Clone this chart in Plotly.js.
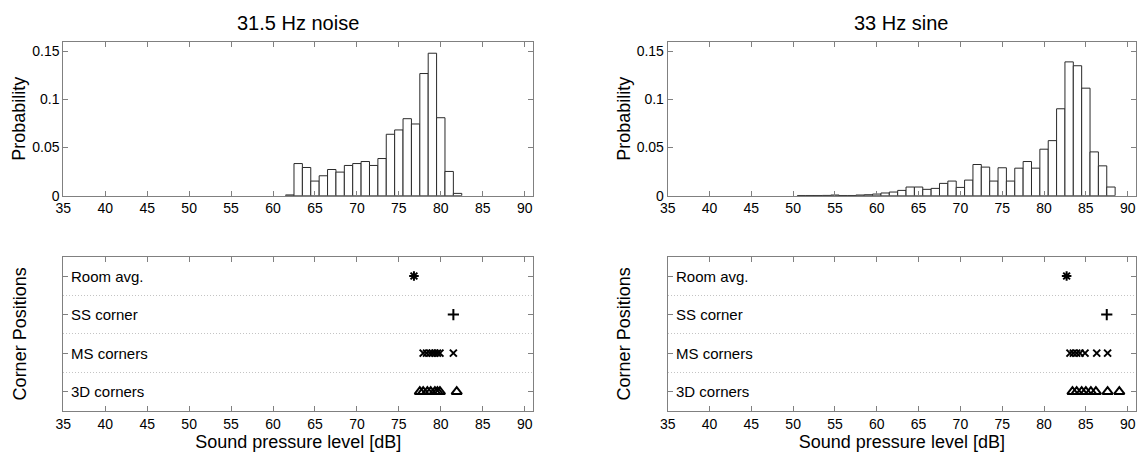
<!DOCTYPE html>
<html>
<head>
<meta charset="utf-8">
<script src="https://cdn.plot.ly/plotly-3.0.1.min.js"></script>
<style>html,body{margin:0;padding:0;background:#fff;}#chart{width:1139px;height:455px;}</style>
</head>
<body>
<div id="chart"></div>
<script>
// ---- Data ----
const panelTitles = ["31.5 Hz noise", "33 Hz sine"];
const xTitle = "Sound pressure level [dB]";
const yTitleTop = "Probability";
const yTitleBottom = "Corner Positions";
const cornerCategories = ["3D corners", "MS corners", "SS corner", "Room avg."];

// Histogram (1 dB bins, centres)
const noiseBins = [62, 63, 64, 65, 66, 67, 68, 69, 70, 71, 72, 73, 74, 75, 76, 77, 78, 79, 80, 81, 82];
const noiseProb = [0.0008, 0.0334, 0.0293, 0.0152, 0.0207, 0.0272, 0.0245, 0.0314, 0.0334, 0.0355, 0.0314,
                   0.0386, 0.0638, 0.0683, 0.0800, 0.0745, 0.1269, 0.1480, 0.0810, 0.0252, 0.0024];

const sineBins = [51, 52, 53, 54, 55, 56, 57, 58, 59, 60, 61, 62, 63, 64, 65, 66, 67, 68, 69, 70,
                  71, 72, 73, 74, 75, 76, 77, 78, 79, 80, 81, 82, 83, 84, 85, 86, 87, 88];
const sineProb = [0.0002, 0.0002, 0.0002, 0.0003, 0.0007, 0.0002, 0.0002, 0.0007, 0.0010, 0.0017, 0.0028,
                  0.0038, 0.0055, 0.0090, 0.0090, 0.0066, 0.0076, 0.0128, 0.0152, 0.0086,
                  0.0162, 0.0324, 0.0297, 0.0152, 0.0290, 0.0152, 0.0286, 0.0355, 0.0286, 0.0483,
                  0.0572, 0.0903, 0.1390, 0.1350, 0.1117, 0.0455, 0.0310, 0.0090];

// Corner position levels [dB]
const noiseRoomAvg = [76.8];
const noiseSS = [81.5];
const noiseMS = [77.9, 78.3, 78.7, 79.0, 79.3, 79.6, 79.9, 81.5];
const noise3D = [77.5, 77.9, 78.4, 78.8, 79.3, 79.6, 79.9, 81.9];

const sineRoomAvg = [82.7];
const sineSS = [87.5];
const sineMS = [83.1, 83.5, 83.9, 84.3, 84.9, 86.3, 87.6];
const sine3D = [83.4, 83.9, 84.5, 85.0, 85.6, 86.2, 87.6, 89.0];

// ---- Build ----
const FONT = "Liberation Sans, Arial, Helvetica, sans-serif";
const AX = "#808080";
function catPos(name) { return cornerCategories.indexOf(name) + 1; }
function rep(name, arr) { return arr.map(() => catPos(name)); }

const markerStyles = {
  "Room avg.": {symbol: "asterisk-open", size: 8},
  "SS corner": {symbol: "cross-thin-open", size: 8},
  "MS corners": {symbol: "x-thin-open", size: 7},
  "3D corners": {symbol: "triangle-up-open", size: 9}
};

const traces = [];
function hist(x, y, xa, ya) {
  traces.push({type: "bar", x: x, y: y, xaxis: xa, yaxis: ya, width: 1,
    marker: {color: "#ffffff", line: {color: "#2a2a2a", width: 1}}, hoverinfo: "x+y", showlegend: false});
}
hist(noiseBins, noiseProb, "x", "y");
hist(sineBins, sineProb, "x2", "y2");

function corner(name, vals, xa, ya) {
  const st = markerStyles[name];
  traces.push({type: "scatter", mode: "markers", x: vals, y: rep(name, vals), xaxis: xa, yaxis: ya,
    name: name, showlegend: false, cliponaxis: false,
    marker: {symbol: st.symbol, size: st.size, color: "#000", line: {color: "#000", width: 2}}});
}
corner("Room avg.", noiseRoomAvg, "x3", "y3");
corner("SS corner", noiseSS, "x3", "y3");
corner("MS corners", noiseMS, "x3", "y3");
corner("3D corners", noise3D, "x3", "y3");
corner("Room avg.", sineRoomAvg, "x4", "y4");
corner("SS corner", sineSS, "x4", "y4");
corner("MS corners", sineMS, "x4", "y4");
corner("3D corners", sine3D, "x4", "y4");

const xdomL = [0.0556, 0.4680], xdomR = [0.5862, 0.9974];
const ydomT = [0.5699, 0.9084], ydomB = [0.0967, 0.4358];

function xaxis(dom, anchor, withTitle) {
  const a = {domain: dom, anchor: anchor, range: [35, 91], tick0: 35, dtick: 5, tickmode: "linear",
    ticks: "inside", ticklen: 5, tickcolor: AX, showline: true, linecolor: AX, linewidth: 1,
    mirror: "allticks", showgrid: false, zeroline: false, fixedrange: true,
    tickfont: {family: FONT, size: 14, color: "#000"}};
  if (withTitle) a.title = {text: xTitle, font: {family: FONT, size: 18, color: "#000"}, standoff: 3};
  return a;
}
function yaxisTop(dom, anchor) {
  return {domain: dom, anchor: anchor, range: [0, 0.16], tickvals: [0, 0.05, 0.1, 0.15],
    ticktext: ["0", "0.05", "0.1", "0.15"],
    ticks: "inside", ticklen: 5, tickcolor: AX, showline: true, linecolor: AX, linewidth: 1,
    mirror: "allticks", showgrid: false, zeroline: false, fixedrange: true,
    tickfont: {family: FONT, size: 14, color: "#000"},
    title: {text: yTitleTop, font: {family: FONT, size: 18, color: "#000"}, standoff: 1}};
}
function yaxisBot(dom, anchor) {
  return {domain: dom, anchor: anchor, range: [0.5, 4.5],
    tickvals: cornerCategories.map(c => catPos(c)), showticklabels: false,
    ticks: "inside", ticklen: 5, tickcolor: AX,
    showline: true, linecolor: AX, linewidth: 1, mirror: "allticks", showgrid: false, zeroline: false,
    fixedrange: true,
    minor: {tickvals: [1.5, 2.5, 3.5], showgrid: true, gridcolor: "#c4c4c4", griddash: "1px,2px", gridwidth: 1, ticks: ""},
    title: {text: yTitleBottom, font: {family: FONT, size: 18, color: "#000"}, standoff: 31}};
}

const annotations = [
  {text: panelTitles[0], xref: "paper", yref: "paper", x: (xdomL[0] + xdomL[1]) / 2, y: 1 - 23 / 455,
   xanchor: "center", yanchor: "middle", showarrow: false, font: {family: FONT, size: 20, color: "#000"}},
  {text: panelTitles[1], xref: "paper", yref: "paper", x: (xdomR[0] + xdomR[1]) / 2, y: 1 - 23 / 455,
   xanchor: "center", yanchor: "middle", showarrow: false, font: {family: FONT, size: 20, color: "#000"}}
];
[["x3", "y3"], ["x4", "y4"]].forEach(([xa, ya]) => {
  cornerCategories.forEach(c => {
    annotations.push({text: c, xref: xa + " domain", yref: ya, x: 0, y: catPos(c), xshift: 6,
      xanchor: "left", yanchor: "middle", showarrow: false, font: {family: FONT, size: 15, color: "#000"}});
  });
});

const layout = {
  width: 1139, height: 455,
  margin: {l: 0, r: 0, t: 0, b: 0},
  paper_bgcolor: "#fff", plot_bgcolor: "#fff",
  showlegend: false, bargap: 0,
  font: {family: FONT, size: 14, color: "#000"},
  xaxis: xaxis(xdomL, "y", false),
  yaxis: yaxisTop(ydomT, "x"),
  xaxis2: xaxis(xdomR, "y2", false),
  yaxis2: yaxisTop(ydomT, "x2"),
  xaxis3: xaxis(xdomL, "y3", true),
  yaxis3: yaxisBot(ydomB, "x3"),
  xaxis4: xaxis(xdomR, "y4", true),
  yaxis4: yaxisBot(ydomB, "x4"),
  annotations: annotations
};

Plotly.newPlot("chart", traces, layout, {displayModeBar: false, staticPlot: true});
</script>
</body>
</html>
